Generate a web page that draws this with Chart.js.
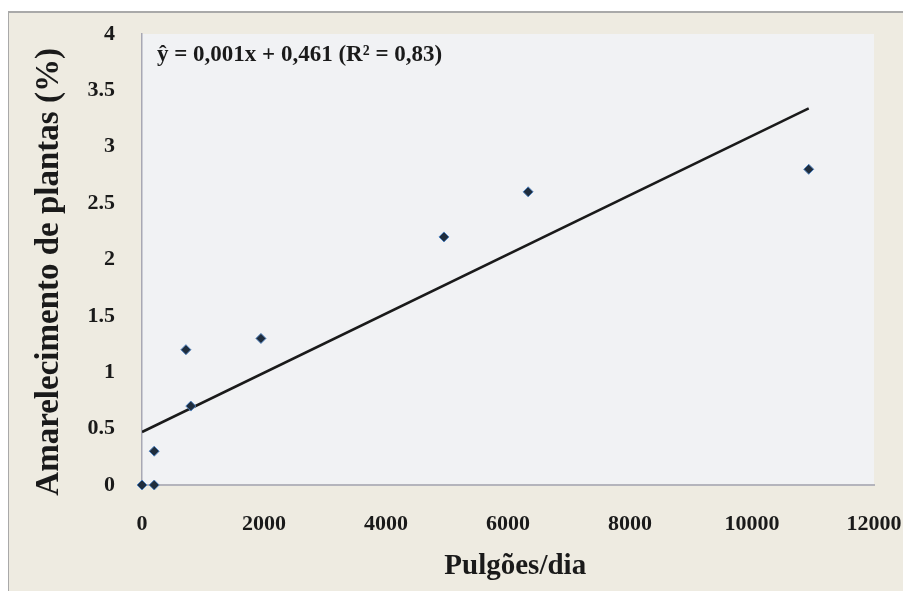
<!DOCTYPE html>
<html>
<head>
<meta charset="utf-8">
<script src="https://cdn.jsdelivr.net/npm/chart.js@4"></script>
<style>
  html, body { margin: 0; padding: 0; background: #ffffff; }
  #frame {
    position: absolute; left: 8px; top: 11px;
    width: 894px; height: 579px;
    background: #eeebe1;
    border-left: 1px solid #a9a9a9;
    border-top: 2px solid #a9a9a9;
  }
  canvas { display: block; }
</style>
</head>
<body>
<div id="frame"><canvas id="Chart1" width="894" height="578"></canvas></div>
<script>
// data
var pulgoes = [0, 200, 200, 720, 800, 1950, 4950, 6330, 10930];
var amarelecimento = [0, 0, 0.3, 1.2, 0.7, 1.3, 2.2, 2.6, 2.8];

// fitted trend line, end points
var trendX = [0, 10930];
var trendY = [0.47, 3.34];

var equationText = 'ŷ = 0,001x + 0,461 (R² = 0,83)';
var xTitle = '\u00a0\u00a0Pulgões/dia';
var yTitle = 'Amarelecimento de plantas (%)\u00a0\u00a0\u00a0';

var points = pulgoes.map(function (x, i) { return { x: x, y: amarelecimento[i] }; });
var trend = trendX.map(function (x, i) { return { x: x, y: trendY[i] }; });

var serif = '"Liberation Serif", "Times New Roman", serif';

// plot area fill + equation text
var plotStuff = {
	id: 'plotStuff',
	beforeDraw: function (chart) {
		var a = chart.chartArea, ctx = chart.ctx;
		ctx.save();
		ctx.fillStyle = '#f1f2f4';
		ctx.fillRect(a.left, a.top, a.right - a.left, a.bottom - a.top);
		ctx.restore();
	},
	afterDraw: function (chart) {
		var a = chart.chartArea, ctx = chart.ctx;
		ctx.save();
		ctx.font = 'bold 23px ' + serif;
		ctx.fillStyle = '#1a1a1a';
		ctx.textBaseline = 'middle';
		ctx.textAlign = 'left';
		ctx.fillText(equationText, a.left + 15, a.top + 21);
		ctx.restore();
	}
};

var context = document.getElementById('Chart1').getContext('2d');

var myChart = new Chart(context, {
	type: 'scatter',
	data: {
		datasets: [{
			label: 'Amarelecimento',
			data: points,
			pointStyle: 'rectRot',
			pointRadius: 5,
			pointHoverRadius: 5,
			backgroundColor: '#1f2d3d',
			borderColor: '#4f81bd',
			borderWidth: 1,
			clip: false,
			order: 1
		}, {
			label: 'Tendência',
			type: 'line',
			data: trend,
			showLine: true,
			pointRadius: 0,
			borderColor: '#1a1a1a',
			borderWidth: 2.5,
			fill: false,
			order: 2
		}]
	},
	options: {
		responsive: false,
		animation: false,
		devicePixelRatio: 1,
		layout: { padding: { top: 21, right: 29, left: 0, bottom: 0 } },
		plugins: {
			legend: { display: false },
			tooltip: { enabled: false }
		},
		scales: {
			x: {
				type: 'linear',
				min: 0, max: 12000,
				grid: { display: false },
				border: { display: true, color: '#b4b4bc', width: 2 },
				ticks: {
					stepSize: 2000,
					padding: 18,
					color: '#1a1a1a',
					font: { family: serif, size: 22, weight: 'bold' },
					callback: function (v) { return String(v); }
				},
				title: {
					display: true,
					text: xTitle,
					color: '#1a1a1a',
					font: { family: serif, size: 29, weight: 'bold' },
					padding: { top: 0, bottom: 7 }
				},
				afterFit: function (scale) {
					scale.height = 106;
					scale.paddingLeft = 0;
					scale.paddingRight = 0;
				}
			},
			y: {
				min: 0, max: 4,
				grid: { display: false },
				border: { display: true, color: '#a8a8b4', width: 1.5 },
				ticks: {
					stepSize: 0.5,
					padding: 19,
					color: '#1a1a1a',
					font: { family: serif, size: 22, weight: 'bold' },
					callback: function (v) { return String(v); }
				},
				title: {
					display: true,
					text: yTitle,
					color: '#1a1a1a',
					font: { family: serif, size: 33, weight: 'bold' },
					padding: { top: 21, bottom: 0 }
				},
				afterFit: function (scale) {
					scale.width = 133;
					scale.paddingTop = 0;
					scale.paddingBottom = 0;
				}
			}
		}
	},
	plugins: [plotStuff]
});
</script>
</body>
</html>
